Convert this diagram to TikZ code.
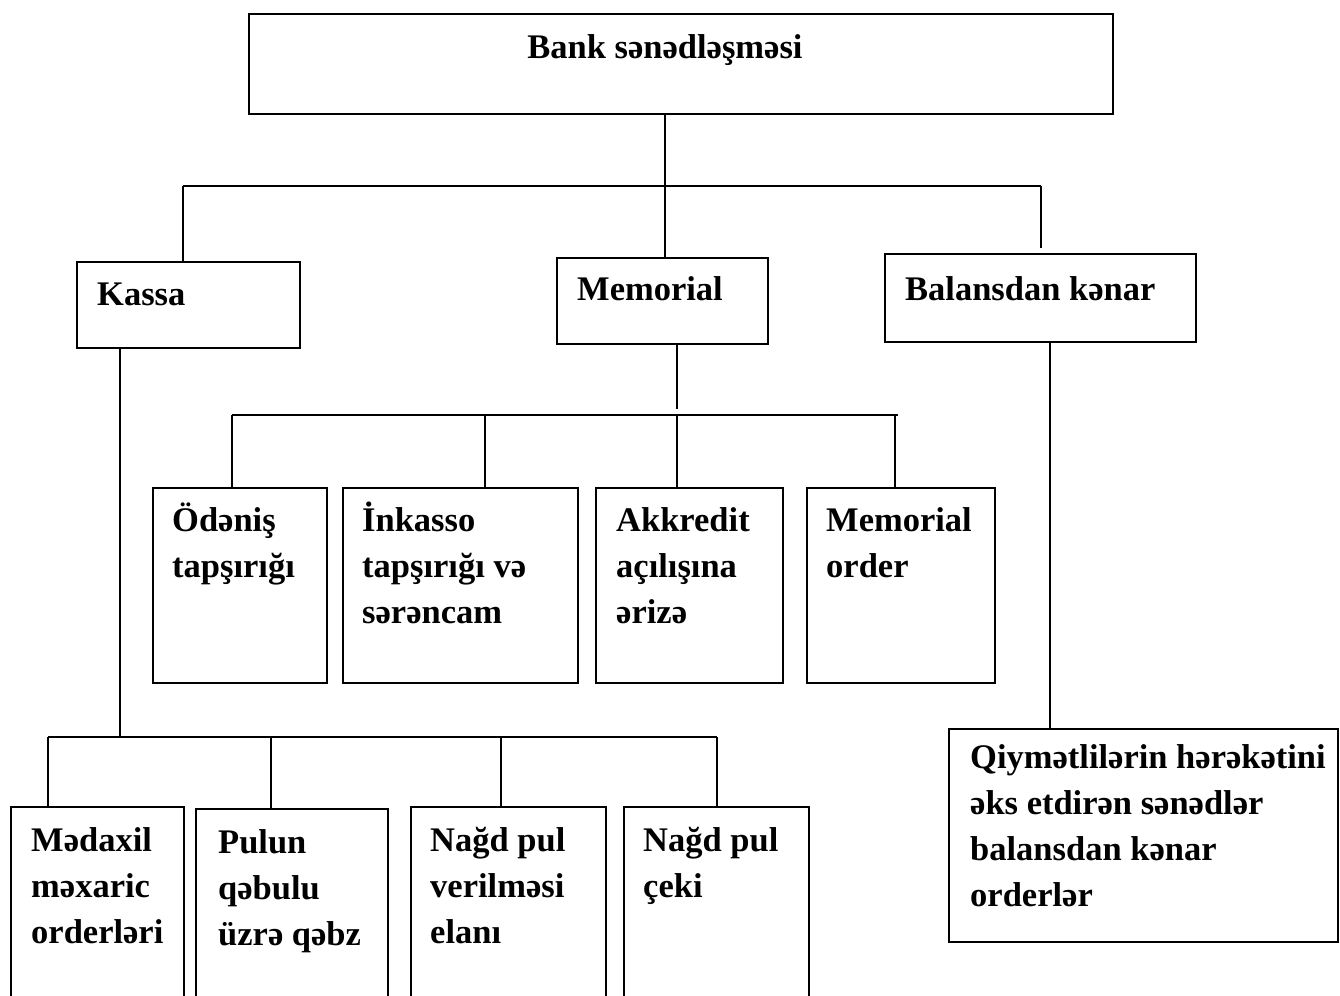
\documentclass[tikz,border=0pt]{standalone}
\usepackage{fontspec}
\setmainfont{Liberation Serif}
\begin{document}
\begin{tikzpicture}[x=1pt,y=-1pt,
  box/.style={draw, line width=2.2pt, anchor=north west, inner sep=0pt},
  txt/.style={anchor=base west, inner sep=0pt, align=left,
    font=\fontsize{34.5}{46}\selectfont\bfseries},
  conn/.style={line width=1.8pt}]
\useasboundingbox (0,0) rectangle (1340,995);
\clip (0,0) rectangle (1340,995);
% boxes
\node[box, minimum width=864pt, minimum height=100pt] (top) at (248,13) {};
\node[box, minimum width=223pt, minimum height=86pt] (kassa) at (76,261) {};
\node[box, minimum width=211pt, minimum height=86pt] (memo) at (556,257) {};
\node[box, minimum width=311pt, minimum height=88pt] (bal) at (884,253) {};
\node[box, minimum width=174pt, minimum height=195pt] (od) at (152,487) {};
\node[box, minimum width=235pt, minimum height=195pt] (ink) at (342,487) {};
\node[box, minimum width=187pt, minimum height=195pt] (akk) at (595,487) {};
\node[box, minimum width=188pt, minimum height=195pt] (mor) at (806,487) {};
\node[box, minimum width=173pt, minimum height=220pt] (med) at (10,806) {};
\node[box, minimum width=192pt, minimum height=220pt] (pul) at (195,808) {};
\node[box, minimum width=195pt, minimum height=220pt] (nver) at (410,806) {};
\node[box, minimum width=185pt, minimum height=220pt] (ncek) at (623,806) {};
\node[box, minimum width=389pt, minimum height=213pt] (qiy) at (948,728) {};
% texts (anchored at the baseline of the last line)
\node[txt, anchor=base] (ttop) at (665,59) {Bank sənədləşməsi};
\node[txt] (tkassa) at (97,305) {Kassa};
\node[txt] (tmemo) at (577,300) {Memorial};
\node[txt] (tbal) at (905,300) {Balansdan kənar};
\node[txt] (tod) at (172,577) {Ödəniş\\tapşırığı};
\node[txt] (tink) at (362,623) {İnkasso\\tapşırığı və\\sərəncam};
\node[txt] (takk) at (616,623) {Akkredit\\açılışına\\ərizə};
\node[txt] (tmor) at (826,577) {Memorial\\order};
\node[txt] (tmed) at (31,943) {Mədaxil\\məxaric\\orderləri};
\node[txt] (tpul) at (218,945) {Pulun\\qəbulu\\üzrə qəbz};
\node[txt] (tnver) at (430,943) {Nağd pul\\verilməsi\\elanı};
\node[txt] (tncek) at (643,897) {Nağd pul\\çeki};
\node[txt] (tqiy) at (970,906) {Qiymətlilərin hərəkətini\\əks etdirən sənədlər\\balansdan kənar\\orderlər};
% junction coordinates
\coordinate (h1l) at (183,186);
\coordinate (h1m) at (665,186);
\coordinate (h1r) at (1041,186);
\coordinate (b1) at (1041,248);
\coordinate (m2) at (677,409);
\coordinate (h2l) at (232,415);
\coordinate (h2b) at (485,415);
\coordinate (h2c) at (677,415);
\coordinate (h2d) at (895,415);
\coordinate (h2r) at (898,415);
\coordinate (h3k) at (120,737);
\coordinate (h3l) at (48,737);
\coordinate (h3b) at (271,737);
\coordinate (h3c) at (501,737);
\coordinate (h3r) at (717,737);
\coordinate (bv) at (1050,341);
% connectors
\draw[conn] (top.south -| h1m) -- (h1m);
\draw[conn] (h1l) -- (h1r);
\draw[conn] (h1l) -- (h1l |- kassa.north);
\draw[conn] (h1m) -- (h1m |- memo.north);
\draw[conn] (h1r) -- (b1);
\draw[conn] (memo.south -| m2) -- (m2);
\draw[conn] (h2l) -- (h2r);
\draw[conn] (h2l) -- (h2l |- od.north);
\draw[conn] (h2b) -- (h2b |- ink.north);
\draw[conn] (h2c) -- (h2c |- akk.north);
\draw[conn] (h2d) -- (h2d |- mor.north);
\draw[conn] (kassa.south -| h3k) -- (h3k);
\draw[conn] (h3l) -- (h3r);
\draw[conn] (h3l) -- (h3l |- med.north);
\draw[conn] (h3b) -- (h3b |- pul.north);
\draw[conn] (h3c) -- (h3c |- nver.north);
\draw[conn] (h3r) -- (h3r |- ncek.north);
\draw[conn] (bal.south -| bv) -- (bv |- qiy.north);
\end{tikzpicture}
\end{document}
